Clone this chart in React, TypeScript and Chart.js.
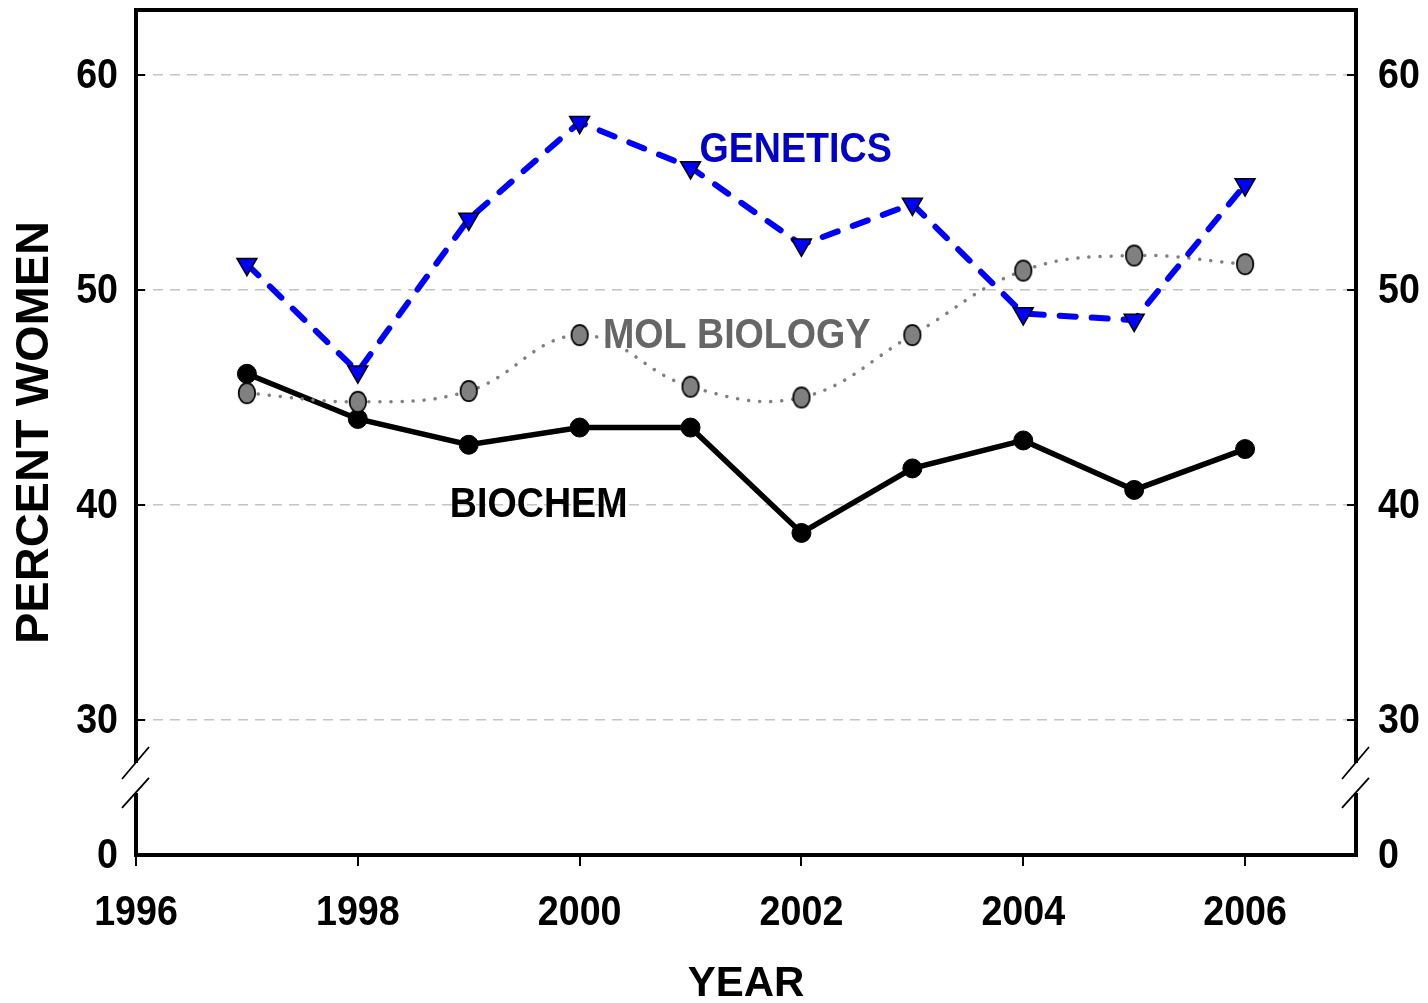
import React, { useEffect, useRef } from 'react';
import { Chart, registerables } from 'chart.js';

Chart.register(...registerables);

// ---- data ----
const YEARS = [1997, 1998, 1999, 2000, 2001, 2002, 2003, 2004, 2005, 2006];
const BIOCHEM = [46.1, 44.0, 42.8, 43.6, 43.6, 38.7, 41.7, 43.0, 40.7, 42.6];
const MOL_BIOLOGY = [45.2, 44.8, 45.3, 47.9, 45.5, 45.0, 47.9, 50.9, 51.6, 51.2];
const GENETICS = [51.2, 46.2, 53.3, 57.8, 55.7, 52.1, 54.0, 48.9, 48.6, 54.9];
const X_TICKS = [1996, 1998, 2000, 2002, 2004, 2006];
const Y_TICKS = [30, 40, 50, 60];
const BREAK_TICK_LABEL = '0';

// ---- axis ranges (broken axis: the bottom value stands for 0) ----
const X_MIN = 1996;
const X_MAX = 2007;
const Y_MIN = 23.72;
const Y_MAX = 63.02;

// ---- in-chart series labels (text, anchor x in years, anchor y in percent) ----
const LABEL_TEXTS = ['GENETICS', 'MOL BIOLOGY', 'BIOCHEM'];
const LABEL_X = [2001.08, 2000.21, 1998.83];
const LABEL_Y = [56.58, 47.95, 40.1];
const LABEL_COLORS = ['#0000C8', '#666666', '#000000'];

const FONT = '"Liberation Sans", Arial, Helvetica, sans-serif';
const SQUEEZE = 0.875;

function makeEllipse(): HTMLCanvasElement {
  const c = document.createElement('canvas');
  c.width = 20;
  c.height = 24;
  const g = c.getContext('2d')!;
  g.beginPath();
  g.ellipse(10, 12, 8.3, 10.2, 0, 0, Math.PI * 2);
  g.fillStyle = '#808080';
  g.fill();
  g.lineWidth = 1.7;
  g.strokeStyle = '#000';
  g.stroke();
  return c;
}

function squeezedText(ctx: any, text: string, x: number, y: number, align: string, color: string) {
  ctx.save();
  ctx.translate(x, y);
  ctx.scale(SQUEEZE, 1);
  ctx.textAlign = align;
  ctx.fillStyle = color;
  ctx.fillText(text, 0, 0);
  ctx.restore();
}

const framePlugin = {
  id: 'frame',
  beforeDatasetsDraw(chart: any) {
    const { ctx, chartArea } = chart;
    const { left, right, top, bottom } = chartArea;
    const y = chart.scales.y;
    const p30 = y.getPixelForValue(30);
    const breakTop = p30 + 43;
    const breakBot = p30 + 73;
    ctx.save();
    ctx.strokeStyle = '#000';
    ctx.lineWidth = 4;
    ctx.lineJoin = 'miter';
    ctx.lineCap = 'butt';
    ctx.beginPath();
    ctx.moveTo(left, breakTop);
    ctx.lineTo(left, top);
    ctx.lineTo(right, top);
    ctx.lineTo(right, breakTop);
    ctx.moveTo(left, breakBot);
    ctx.lineTo(left, bottom);
    ctx.lineTo(right, bottom);
    ctx.lineTo(right, breakBot);
    ctx.stroke();
    // break slashes
    ctx.lineWidth = 1.8;
    ctx.beginPath();
    for (const x of [left, right]) {
      ctx.moveTo(x - 14, breakTop + 16);
      ctx.lineTo(x + 13, breakTop - 16);
      ctx.moveTo(x - 14, breakBot + 15);
      ctx.lineTo(x + 13, breakBot - 15);
    }
    ctx.stroke();
    // inward tick marks
    ctx.lineWidth = 2;
    ctx.beginPath();
    for (const v of Y_TICKS) {
      const py = y.getPixelForValue(v);
      ctx.moveTo(left, py);
      ctx.lineTo(left + 9, py);
      ctx.moveTo(right - 9, py);
      ctx.lineTo(right, py);
    }
    ctx.stroke();
    ctx.restore();
  },
  afterDraw(chart: any) {
    // tick labels, drawn from the scales' own ticks, horizontally condensed like the original
    const { ctx, chartArea } = chart;
    ctx.save();
    ctx.font = `bold 43px ${FONT}`;
    ctx.textBaseline = 'middle';
    const xs = chart.scales.x;
    xs.ticks.forEach((t: any) => {
      squeezedText(ctx, String(t.value), xs.getPixelForValue(t.value), chartArea.bottom + 58, 'center', '#000');
    });
    const ys = chart.scales.y;
    ys.ticks.forEach((t: any) => {
      const lbl = t.value === Y_MIN ? BREAK_TICK_LABEL : String(t.value);
      squeezedText(ctx, lbl, chartArea.left - 18, ys.getPixelForValue(t.value) + 1, 'right', '#000');
    });
    const y2 = chart.scales.y2;
    y2.ticks.forEach((t: any) => {
      const lbl = t.value === Y_MIN ? BREAK_TICK_LABEL : String(t.value);
      squeezedText(ctx, lbl, chartArea.right + 22, y2.getPixelForValue(t.value) + 1, 'left', '#000');
    });
    ctx.restore();
  },
};

const labelPlugin = {
  id: 'seriesLabels',
  afterDatasetsDraw(chart: any) {
    const { ctx } = chart;
    const xs = chart.scales.x;
    const ys = chart.scales.y;
    ctx.save();
    ctx.font = `bold 43px ${FONT}`;
    ctx.textBaseline = 'middle';
    LABEL_TEXTS.forEach((t, i) => {
      squeezedText(ctx, t, xs.getPixelForValue(LABEL_X[i]), ys.getPixelForValue(LABEL_Y[i]) + 2, 'left', LABEL_COLORS[i]);
    });
    ctx.restore();
  },
};

const zeroPad = (s: any) => {
  s.paddingTop = 0;
  s.paddingBottom = 0;
  s.paddingLeft = 0;
  s.paddingRight = 0;
};

export default function App() {
  const ref = useRef<HTMLCanvasElement | null>(null);

  useEffect(() => {
    if (!ref.current) return;
    const ellipse = makeEllipse();
    const yTicks = () => [Y_MIN, ...Y_TICKS].map((v) => ({ value: v }));

    const chart = new Chart(ref.current, {
      type: 'line',
      data: {
        datasets: [
          {
            label: 'GENETICS',
            data: YEARS.map((x, i) => ({ x, y: GENETICS[i] })),
            borderColor: '#0000FF',
            borderWidth: 6,
            borderDash: [16, 16],
            borderCapStyle: 'round',
            pointStyle: 'triangle',
            pointRotation: 180,
            pointRadius: 11.5,
            pointBackgroundColor: '#0000FF',
            pointBorderColor: '#000000',
            pointBorderWidth: 1.5,
            tension: 0,
          },
          {
            label: 'MOL BIOLOGY',
            data: YEARS.map((x, i) => ({ x, y: MOL_BIOLOGY[i] })),
            borderColor: '#808080',
            borderWidth: 3.5,
            borderDash: [0.1, 11],
            borderCapStyle: 'round',
            pointStyle: ellipse as any,
            pointRadius: 10,
            tension: 0.4,
          },
          {
            label: 'BIOCHEM',
            data: YEARS.map((x, i) => ({ x, y: BIOCHEM[i] })),
            borderColor: '#000000',
            borderWidth: 5.5,
            pointStyle: 'circle',
            pointRadius: 9.5,
            pointBackgroundColor: '#000000',
            pointBorderColor: '#000000',
            pointBorderWidth: 1,
            tension: 0,
          },
        ],
      },
      options: {
        animation: false,
        responsive: false,
        events: [],
        layout: { autoPadding: false, padding: { top: 10, left: 0, right: 0, bottom: 0 } },
        plugins: { legend: { display: false }, tooltip: { enabled: false } },
        scales: {
          x: {
            type: 'linear',
            min: X_MIN,
            max: X_MAX,
            afterBuildTicks: (s: any) => {
              s.ticks = X_TICKS.map((v) => ({ value: v }));
            },
            afterFit: (s: any) => {
              s.height = 148;
              zeroPad(s);
            },
            grid: {
              drawOnChartArea: false,
              drawTicks: true,
              tickLength: 11,
              color: '#000000',
              lineWidth: 2,
            },
            border: { display: false },
            ticks: { display: false },
            title: {
              display: true,
              text: 'YEAR',
              color: '#000000',
              font: { family: FONT, size: 42, weight: 'bold', lineHeight: 0.9 },
              padding: { top: 0, bottom: 0 },
            },
          },
          y: {
            type: 'linear',
            position: 'left',
            min: Y_MIN,
            max: Y_MAX,
            afterBuildTicks: (s: any) => {
              s.ticks = yTicks();
            },
            afterFit: (s: any) => {
              s.width = 136;
              zeroPad(s);
            },
            grid: {
              drawTicks: false,
              lineWidth: 1.5,
              color: (c: any) => (c.tick && c.tick.value === Y_MIN ? 'rgba(0,0,0,0)' : '#c4c4c4'),
            },
            border: { display: false, dash: [10, 7] },
            ticks: { display: false },
            title: {
              display: true,
              text: 'PERCENT WOMEN',
              color: '#000000',
              font: { family: FONT, size: 47, weight: 'bold', lineHeight: 0.9 },
              padding: { top: 14, bottom: 0 },
            },
          },
          y2: {
            type: 'linear',
            position: 'right',
            min: Y_MIN,
            max: Y_MAX,
            afterBuildTicks: (s: any) => {
              s.ticks = yTicks();
            },
            afterFit: (s: any) => {
              s.width = 72;
              zeroPad(s);
            },
            grid: { drawOnChartArea: false, drawTicks: false },
            border: { display: false },
            ticks: { display: false },
          },
        },
      },
      plugins: [framePlugin, labelPlugin],
    } as any);

    return () => chart.destroy();
  }, []);

  return (
    <div style={{ position: 'fixed', left: 0, top: 0, width: 1428, height: 1003, background: '#ffffff' }}>
      <canvas ref={ref} width={1428} height={1003} style={{ display: 'block' }} />
    </div>
  );
}
